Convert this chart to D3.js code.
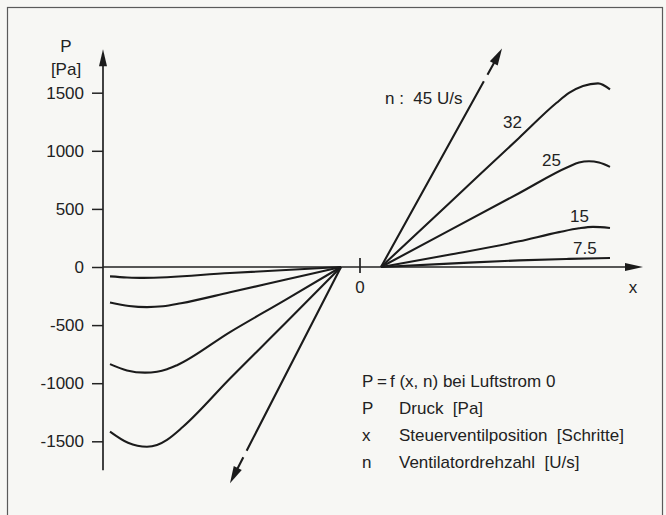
<!DOCTYPE html>
<meta charset="utf-8">
<style>
  body { margin: 0; background: #f7f7f4; }
  svg { display: block; }
  text { font-family: "Liberation Sans", Arial, sans-serif; font-size: 17px; fill: #222; white-space: pre; }
  .curve { fill: none; stroke: #1b1b1b; stroke-width: 2.1px; stroke-linejoin: round; }
  .axisLine { stroke: #222; stroke-width: 1.7px; }
  .arrow { fill: #1b1b1b; stroke: none; }
  .yAxisFormat line { stroke: #222; stroke-width: 1.5px; }
  .yAxisFormat path { display: none; }
</style>
<body>
<script src="https://d3js.org/d3.v7.min.js"></script>
<script>

// x = control valve position (steps), P = pressure [Pa]
// positive side, one array per fan speed n
var xPos75 = [11, 45, 80, 105, 125.5];
var pPos75 = [0, 29, 57, 70, 78];
var xPos15 = [11, 45, 80, 100, 110, 117, 125.5];
var pPos15 = [0, 105, 221, 300, 333, 345, 336];
var xPos25 = [11, 45, 80, 104.8, 110, 115, 120, 125.5];
var pPos25 = [0, 313, 635, 863, 899, 910, 899, 862];
var xPos32 = [11, 45, 80, 98.8, 105, 112, 119.5, 125.5];
var pPos32 = [0, 547, 1111, 1413, 1498, 1558, 1580, 1528];
var xPos45 = [11, 71.5];
var pPos45 = [0, 1880];

// negative side
var xNeg75 = [-124.5, -116, -108, -64.5, -9];
var pNeg75 = [-81, -90, -94, -52, 0];
var xNeg15 = [-124.5, -115, -106, -98, -89, -64.5, -37, -9];
var pNeg15 = [-305, -335, -345, -338, -312, -218, -110, 0];
var xNeg25 = [-124.5, -116, -107, -101, -96, -91, -64.5, -37, -9];
var pNeg25 = [-836, -890, -909, -901, -880, -845, -560, -285, 0];
var xNeg32 = [-124.5, -115.5, -106, -101, -96, -88, -64.5, -37, -9];
var pNeg32 = [-1417, -1513, -1547, -1532, -1487, -1375, -960, -487, 0];
var xNeg45 = [-9, -64.5];
var pNeg45 = [0, -1860];

var yTicks = [-1500, -1000, -500, 0, 500, 1000, 1500];

// curve labels: text, x, P
var labelText = ["n :  45 U/s", "32", "25", "15", "7.5"];
var labelX = [13, 72, 91.5, 105.5, 107];
var labelP = [1399, 1192, 873, 390, 115];

// legend
var legendSym = ["P", "P", "x", "n"];
var legendText = ["f (x, n) bei Luftstrom 0", "Druck  [Pa]", "Steuerventilposition  [Schritte]", "Ventilatordrehzahl  [U/s]"];

var width = 666, height = 515;

var svg = d3.select("body").append("svg")
    .attr("width", width)
    .attr("height", height);

// scanned frame
svg.append("rect")
    .attr("x", 7.5).attr("y", 7.5)
    .attr("width", 655).attr("height", 600)
    .attr("fill", "none")
    .attr("stroke", "#5a5a5a")
    .attr("stroke-width", 1.2);

var x = d3.scaleLinear().domain([-128, 142]).range([103, 643]);
var y = d3.scaleLinear().domain([-1500, 1500]).range([441.3, 92.7]);

function arrowHead(tx, ty, fx, fy, len, hw) {
  var dx = tx - fx, dy = ty - fy, l = Math.sqrt(dx * dx + dy * dy);
  var ux = dx / l, uy = dy / l;
  var bx = tx - ux * len, by = ty - uy * len;
  svg.append("path")
      .attr("class", "arrow")
      .attr("d", "M" + tx + "," + ty +
                 "L" + (bx - uy * hw) + "," + (by + ux * hw) +
                 "L" + (bx + uy * hw) + "," + (by - ux * hw) + "Z");
}

// y axis
var yAxis = svg.append("g")
    .attr("class", "yAxisFormat")
    .attr("transform", "translate(" + x(-128) + ",0)")
    .call(d3.axisLeft(y).tickValues(yTicks).tickSize(11).tickPadding(8)
      .tickFormat(function(d) { return String(d); }));

svg.append("line").attr("class", "axisLine")
    .attr("x1", x(-128)).attr("x2", x(-128))
    .attr("y1", y(-1750)).attr("y2", y(1760));
arrowHead(x(-128), y(1875), x(-128), y(0), 17, 4);

// x axis
svg.append("line").attr("class", "axisLine")
    .attr("x1", x(-128)).attr("x2", x(133))
    .attr("y1", y(0)).attr("y2", y(0));
arrowHead(x(142), y(0), x(0), y(0), 18, 4);

svg.append("line").attr("class", "axisLine")
    .attr("x1", x(0.5)).attr("x2", x(0.5))
    .attr("y1", y(0) - 9).attr("y2", y(0) + 6);
svg.append("text").attr("x", x(0.5)).attr("y", y(0) + 26)
    .attr("text-anchor", "middle").text("0");
svg.append("text").attr("x", x(137)).attr("y", y(0) + 26)
    .attr("text-anchor", "middle").text("x");

// axis title
svg.append("text").attr("x", 66).attr("y", 52).attr("text-anchor", "middle").text("P");
svg.append("text").attr("x", 66).attr("y", 75).attr("text-anchor", "middle").text("[Pa]");

// curves
var valueline = d3.line()
    .curve(d3.curveMonotoneX)
    .x(function(d) { return x(d[0]); })
    .y(function(d) { return y(d[1]); });

var curves = [
  [xPos75, pPos75], [xPos15, pPos15], [xPos25, pPos25], [xPos32, pPos32],
  [xNeg75, pNeg75], [xNeg15, pNeg15], [xNeg25, pNeg25], [xNeg32, pNeg32]
];

svg.selectAll("path.curve")
    .data(curves.map(function(c) { return d3.zip(c[0], c[1]); }))
    .enter().append("path")
    .attr("class", "curve")
    .attr("d", valueline);

// n = 45: straight line, broken near the end, with arrow
function arrowLine(xs, ps) {
  var x0 = x(xs[0]), y0 = y(ps[0]), x1 = x(xs[1]), y1 = y(ps[1]);
  var l = Math.sqrt((x1 - x0) * (x1 - x0) + (y1 - y0) * (y1 - y0));
  function at(t) { return [x0 + (x1 - x0) * t, y0 + (y1 - y0) * t]; }
  var a = at(0.85), b = at(0.88), c = at(1 - 14 / l);
  svg.append("path").attr("class", "curve")
      .attr("d", "M" + x0 + "," + y0 + "L" + a[0] + "," + a[1] +
                 "M" + b[0] + "," + b[1] + "L" + c[0] + "," + c[1]);
  arrowHead(x1, y1, x0, y0, 17, 4.5);
}
arrowLine(xPos45, pPos45);
arrowLine(xNeg45, pNeg45);

// curve labels
svg.selectAll("text.lbl")
    .data(labelText)
    .enter().append("text")
    .attr("class", "lbl")
    .attr("x", function(d, i) { return x(labelX[i]); })
    .attr("y", function(d, i) { return y(labelP[i]); })
    .text(function(d) { return d; });

// legend
var legendY = [387, 414, 441, 468];
svg.selectAll("text.sym")
    .data(legendSym)
    .enter().append("text")
    .attr("class", "sym")
    .attr("x", 362)
    .attr("y", function(d, i) { return legendY[i]; })
    .text(function(d) { return d; });

svg.append("text").attr("x", 377).attr("y", legendY[0]).text("=");

svg.selectAll("text.leg")
    .data(legendText)
    .enter().append("text")
    .attr("class", "leg")
    .attr("x", function(d, i) { return i == 0 ? 390 : 399; })
    .attr("y", function(d, i) { return legendY[i]; })
    .text(function(d) { return d; });

</script>
</body>
